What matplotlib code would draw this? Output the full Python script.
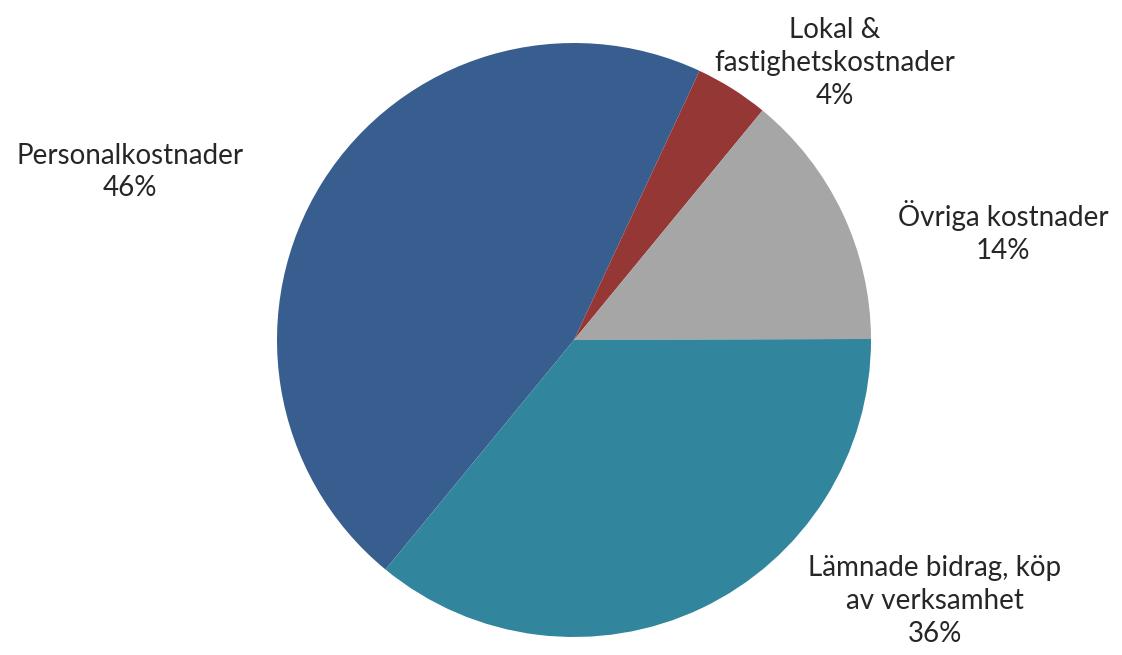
import matplotlib
matplotlib.use("Agg")
import matplotlib.pyplot as plt

# data
labels = ["Personalkostnader", "Lokal &\nfastighetskostnader", "Övriga kostnader", "Lämnade bidrag, köp\nav verksamhet"]
shares = [46, 4, 14, 36]
colors = ["#375E8F", "#953735", "#A6A6A6", "#31859C"]

plt.rcParams["font.family"] = ["Lato", "DejaVu Sans"]

W, H = 1122, 655
fig = plt.figure(figsize=(W / 100, H / 100), dpi=100)
ax = fig.add_axes([0, 0, 1, 1])

cx, cy, r = 574, H - 340, 297
ax.pie(shares, colors=colors, startangle=230.6, counterclock=False,
       center=(cx, cy), radius=r, frame=True,
       wedgeprops=dict(linewidth=0))
ax.set_xlim(0, W); ax.set_ylim(0, H)
ax.set_aspect("equal")
ax.axis("off")

# label centres (pixel coords, top-left origin)
label_pos = [(130, 172), (835, 63), (1003, 232), (935, 601)]
for lab, s, (x, y) in zip(labels, shares, label_pos):
    ax.text(x, H - y, f"{lab}\n{s}%", ha="center", va="center", ma="center",
            fontsize=20, color="#262626", linespacing=1.33)

fig.savefig("out.png", dpi=100)
